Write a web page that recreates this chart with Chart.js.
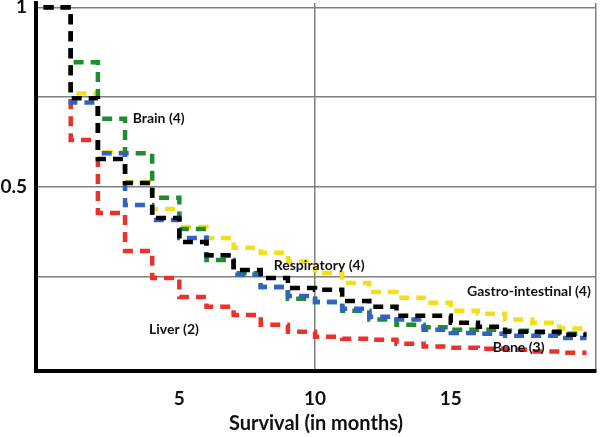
<!DOCTYPE html>
<html>
<head>
<meta charset="utf-8">
<script src="https://cdn.jsdelivr.net/npm/chart.js@4/dist/chart.umd.min.js"></script>
<style>
  html, body { margin: 0; padding: 0; background: #fff; }
  #wrap { width: 600px; height: 437px; position: relative; }
</style>
</head>
<body>
<div id="wrap"><canvas id="myChart"></canvas></div>
<script>
// survival time in months
var months = [0, 1, 2, 3, 4, 5, 6, 7, 8, 9, 10, 11, 12, 13, 14, 15, 16, 17, 18, 19, 20];

// survival probability per group
var black  = [1, 0.747, 0.578, 0.511, 0.414, 0.347, 0.31, 0.269, 0.247, 0.219, 0.214, 0.183, 0.167, 0.142, 0.142, 0.122, 0.111, 0.097, 0.097, 0.089, 0.089];
var brain  = [1, 0.847, 0.69, 0.594, 0.47, 0.383, 0.297, 0.26, 0.222, 0.189, 0.18, 0.156, 0.131, 0.117, 0.11, 0.103, 0.103, 0.1, 0.095, 0.092, 0.092];
var gastro = [1, 0.76, 0.597, 0.514, 0.439, 0.389, 0.358, 0.331, 0.317, 0.292, 0.261, 0.233, 0.208, 0.192, 0.178, 0.156, 0.147, 0.131, 0.122, 0.106, 0.106];
var bone   = [1, 0.735, 0.594, 0.45, 0.408, 0.358, 0.31, 0.256, 0.222, 0.197, 0.18, 0.161, 0.139, 0.131, 0.103, 0.094, 0.092, 0.086, 0.086, 0.08, 0.08];
var liver  = [1, 0.631, 0.428, 0.322, 0.247, 0.194, 0.167, 0.144, 0.117, 0.097, 0.083, 0.078, 0.075, 0.064, 0.056, 0.053, 0.05, 0.047, 0.042, 0.039, 0.039];

var xTicks = [5, 10, 15];
var yTicks = [0.25, 0.5, 0.75, 1];
var yLabels = { '0.5': '0.5', '1': '1' };

// text labels placed at [month, survival]
var notes = [
    { text: 'Brain (4)', at: [4.24, 0.692] },
    { text: 'Respiratory (4)', at: [10.15, 0.281] },
    { text: 'Gastro-intestinal (4)', at: [17.88, 0.208] },
    { text: 'Liver (2)', at: [4.8, 0.103] },
    { text: 'Bone (3)', at: [17.5, 0.053] }
];

function series(values) {
    return months.map(function (m, i) { return { x: m, y: values[i] }; });
}

function line(values, color) {
    return {
        data: series(values),
        borderColor: color,
        borderWidth: 4.5,
        borderDash: [10, 7],
        borderCapStyle: 'butt',
        stepped: true,
        pointRadius: 0,
        fill: false
    };
}

var notesPlugin = {
    id: 'notes',
    afterDatasetsDraw: function (chart) {
        var c = chart.ctx, xs = chart.scales.x, ys = chart.scales.y;
        c.save();
        c.font = 'bold 14px Lato';
        c.fillStyle = '#111';
        c.textAlign = 'center';
        c.textBaseline = 'middle';
        notes.forEach(function (n) {
            c.fillText(n.text, xs.getPixelForValue(n.at[0]), ys.getPixelForValue(n.at[1]));
        });
        c.restore();
    }
};

var ctx = document.getElementById('myChart').getContext('2d');
var chart = new Chart(ctx, {
    type: 'line',
    data: {
        datasets: [
            line(black, '#000000'),
            line(bone, '#3362c2'),
            line(brain, '#1f8c30'),
            line(gastro, '#f0df1a'),
            line(liver, '#e8322b')
        ]
    },
    options: {
        responsive: true,
        maintainAspectRatio: false,
        animation: false,
        layout: { padding: { top: 3, right: 4, left: 0, bottom: 0 } },
        plugins: { legend: { display: false }, tooltip: { enabled: false } },
        scales: {
            x: {
                type: 'linear',
                min: -0.28,
                max: 20.35,
                afterBuildTicks: function (s) {
                    s.ticks = xTicks.concat([s.max]).map(function (v) { return { value: v }; });
                },
                afterFit: function (s) {
                    s.height = 66;
                    s.paddingLeft = 0;
                    s.paddingRight = 0;
                },
                ticks: {
                    autoSkip: false,
                    maxRotation: 0,
                    padding: 16,
                    color: '#111',
                    font: { family: 'Lato', size: 19, weight: 'bold' },
                    callback: function (v) { return xTicks.indexOf(v) >= 0 ? String(v) : ''; }
                },
                grid: {
                    drawTicks: false,
                    lineWidth: 1.5,
                    color: function (c) {
                        return (c.tick && (c.tick.value === 10 || c.tick.value > 20)) ? '#7f7f7f' : 'rgba(0,0,0,0)';
                    }
                },
                border: { display: true, color: '#000', width: 4 },
                title: {
                    display: true,
                    text: 'Survival (in months)',
                    color: '#111',
                    font: { family: 'Lato', size: 20, weight: 'bold' },
                    padding: { top: 0, bottom: 1 }
                }
            },
            y: {
                min: -0.012,
                max: 1.012,
                afterBuildTicks: function (s) {
                    s.ticks = yTicks.map(function (v) { return { value: v }; });
                },
                afterFit: function (s) {
                    s.width = 36;
                    s.paddingTop = 0;
                    s.paddingBottom = 0;
                },
                ticks: {
                    padding: 9,
                    color: '#111',
                    font: { family: 'Lato', size: 19, weight: 'bold' },
                    callback: function (v) { return yLabels[String(v)] || ''; }
                },
                grid: { drawTicks: false, lineWidth: 1.5, color: '#7f7f7f' },
                border: { display: true, color: '#000', width: 4 }
            }
        }
    },
    plugins: [notesPlugin]
});
</script>
</body>
</html>
